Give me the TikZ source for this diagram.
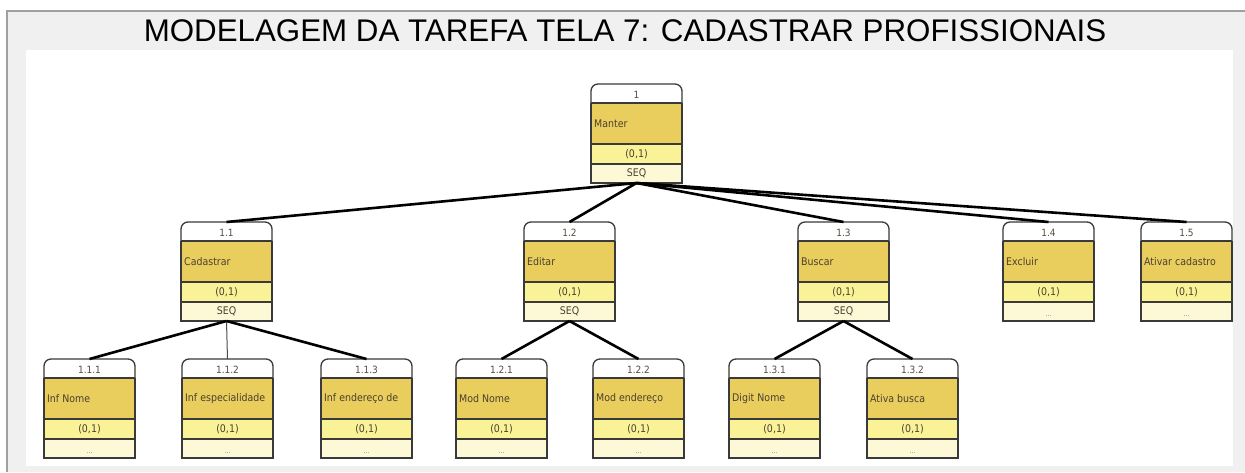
\documentclass[tikz,border=0pt]{standalone}
\usepackage{fontspec}
\setmainfont{DejaVu Sans Condensed}
\newfontfamily\titlefont{Liberation Sans}
\usetikzlibrary{calc}
\definecolor{framegray}{HTML}{A0A0A0}
\definecolor{panelgray}{HTML}{F0F0F0}
\definecolor{golddark}{HTML}{E9CE5E}
\definecolor{goldmid}{HTML}{FAF296}
\definecolor{goldlow}{HTML}{FDF9D7}
\definecolor{boxline}{HTML}{3A3A3A}
\definecolor{txtcol}{HTML}{4A4030}
\tikzset{
  boxedge/.style={draw=boxline, line width=1.3pt},
  sepline/.style={draw=boxline, line width=1.5pt},
  numtxt/.style={font=\fontsize{10}{11}\selectfont, text=txtcol!80!gray, inner sep=0pt},
  labtxt/.style={font=\fontsize{10.5}{12}\selectfont, text=txtcol, inner sep=0pt, anchor=west},
  cardtxt/.style={font=\fontsize{10.5}{12}\selectfont, text=txtcol, inner sep=0pt},
  dotstxt/.style={font=\fontsize{7}{8}\selectfont, text=gray, inner sep=0pt},
  conn/.style={draw=black, line width=2.6pt},
  thinconn/.style={draw=black!70, line width=1pt},
}
% #1 name, #2 left x, #3 top y, #4 number, #5 label
\newcommand\taskbox[5]{%
  \begin{scope}[shift={(#2,#3)}]
    \fill[white, rounded corners=7pt] (0,19) -- (0,0) -- (91,0) -- (91,19) -- cycle;
    \fill[golddark] (0,19) rectangle (91,60);
    \fill[goldmid] (0,60) rectangle (91,80);
    \fill[goldlow] (0,80) rectangle (91,99);
    \draw[boxedge, rounded corners=7pt] (0,19) -- (0,0) -- (91,0) -- (91,19);
    \draw[boxedge] (0,19) -- (0,99) -- (91,99) -- (91,19);
    \draw[sepline] (0,19) -- (91,19);
    \draw[sepline] (0,60) -- (91,60);
    \draw[sepline] (0,80) -- (91,80);
    \coordinate (#1-t) at (45.5,0);
    \coordinate (#1-b) at (45.5,99);
    \node[numtxt] (#1-num) at (45.5,10.5) {#4};
    \node[labtxt] (#1-lab) at (3,40) {#5};
    \node[cardtxt] (#1-card) at (45.5,70.5) {(0,1)};
  \end{scope}%
}
\begin{document}
\begin{tikzpicture}[x=1pt,y=-1pt]
\useasboundingbox (0,0) rectangle (1245,472);
\fill[white] (0,0) rectangle (1245,472);
\fill[panelgray] (6,11) rectangle (1245,472);
\draw[framegray, line width=2.5pt] (7,472) -- (7,11) -- (1245,11);
\fill[white] (26,50) rectangle (1233,466);
\node[font=\titlefont\fontsize{31.3}{34}\selectfont, anchor=base, inner sep=0pt] (title) at (625,41) {MODELAGEM DA TAREFA TELA 7: CADASTRAR PROFISSIONAIS};

% boxes
\taskbox{r}{591}{84}{1}{Manter}
\taskbox{a}{181}{222}{1.1}{Cadastrar}
\taskbox{b}{524}{222}{1.2}{Editar}
\taskbox{c}{798}{222}{1.3}{Buscar}
\taskbox{d}{1003}{222}{1.4}{Excluir}
\taskbox{e}{1141}{222}{1.5}{Ativar cadastro}
\taskbox{aa}{44}{359}{1.1.1}{Inf Nome}
\taskbox{ab}{182}{359}{1.1.2}{Inf especialidade}
\taskbox{ac}{321}{359}{1.1.3}{Inf endereço de}
\taskbox{ba}{456}{359}{1.2.1}{Mod Nome}
\taskbox{bb}{593}{359}{1.2.2}{Mod endereço}
\taskbox{ca}{729}{359}{1.3.1}{Digit Nome}
\taskbox{cb}{867}{359}{1.3.2}{Ativa busca}

% footer texts
\foreach \n in {r,a,b,c}{\node[cardtxt] (\n-seq) at ($(\n-b)+(0,-9.5)$) {SEQ};}
\foreach \n in {d,e,aa,ab,ac,ba,bb,ca,cb}{\node[dotstxt] (\n-dots) at ($(\n-b)+(0,-5)$) {...};}

% connectors
\draw[conn] (r-b) -- (a-t);
\draw[conn] (r-b) -- (b-t);
\draw[conn] (r-b) -- (c-t);
\draw[conn] (r-b) -- (d-t);
\draw[conn] (r-b) -- (e-t);
\draw[conn] (a-b) -- (aa-t);
\draw[thinconn] (a-b) -- (ab-t);
\draw[conn] (a-b) -- (ac-t);
\draw[conn] (b-b) -- (ba-t);
\draw[conn] (b-b) -- (bb-t);
\draw[conn] (c-b) -- (ca-t);
\draw[conn] (c-b) -- (cb-t);
\end{tikzpicture}
\end{document}
